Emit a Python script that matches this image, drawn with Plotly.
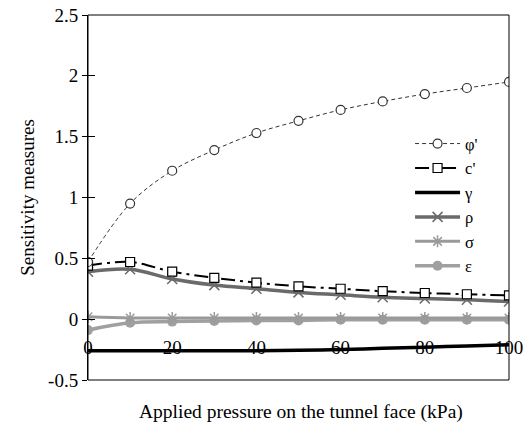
import plotly.graph_objects as go

pressure = [0, 10, 20, 30, 40, 50, 60, 70, 80, 90, 100]
phi = [0.47, 0.95, 1.22, 1.39, 1.53, 1.63, 1.72, 1.79, 1.85, 1.90, 1.95]
coh = [0.44, 0.47, 0.39, 0.34, 0.30, 0.27, 0.25, 0.23, 0.215, 0.205, 0.195]
gamma = [-0.26, -0.26, -0.26, -0.26, -0.26, -0.255, -0.25, -0.24, -0.23, -0.22, -0.21]
rho = [0.39, 0.41, 0.33, 0.28, 0.25, 0.22, 0.20, 0.18, 0.17, 0.16, 0.145]
sigma = [0.02, 0.01, 0.01, 0.01, 0.01, 0.01, 0.01, 0.01, 0.01, 0.01, 0.01]
eps = [-0.09, -0.03, -0.02, -0.015, -0.01, -0.01, -0.005, -0.005, -0.005, -0.005, -0.005]
names = ["\u03c6'", "c'", "\u03b3", "\u03c1", "\u03c3", "\u03b5"]
x_ticks = [0, 20, 40, 60, 80, 100]
y_ticks = [-0.5, 0, 0.5, 1, 1.5, 2, 2.5]
y_ticktext = ["-0.5", "0", "0.5", "1", "1.5", "2", "2.5"]

font = "Liberation Serif"
fig = go.Figure()
fig.add_trace(go.Scatter(x=pressure, y=gamma, name=names[2], mode="lines",
                         line=dict(color="black", width=3.5, shape="spline"), legendrank=3))
fig.add_trace(go.Scatter(x=pressure, y=eps, name=names[5], mode="lines+markers",
                         line=dict(color="#a0a0a0", width=3.5, shape="spline"),
                         marker=dict(symbol="circle", size=10, color="#a0a0a0"), legendrank=6))
fig.add_trace(go.Scatter(x=pressure, y=sigma, name=names[4], mode="lines+markers",
                         line=dict(color="#9a9a9a", width=3, shape="spline"),
                         marker=dict(symbol="asterisk-open", size=10, color="#9a9a9a",
                                     line=dict(width=1.5, color="#9a9a9a")), legendrank=5))
fig.add_trace(go.Scatter(x=pressure, y=rho, name=names[3], mode="lines+markers",
                         line=dict(color="#6a6a6a", width=3.5, shape="spline"),
                         marker=dict(symbol="x-thin-open", size=10, color="#6a6a6a",
                                     line=dict(width=1.5, color="#6a6a6a")), legendrank=4))
fig.add_trace(go.Scatter(x=pressure, y=coh, name=names[1], mode="lines+markers",
                         line=dict(color="black", width=2, dash="14px,5px,3px,5px", shape="spline"),
                         marker=dict(symbol="square", size=9, color="white",
                                     line=dict(width=1.2, color="black")), legendrank=2))
fig.add_trace(go.Scatter(x=pressure, y=phi, name=names[0], mode="lines+markers",
                         line=dict(color="#333333", width=1, dash="4px,3px", shape="spline"),
                         marker=dict(symbol="circle", size=9, color="white",
                                     line=dict(width=1.2, color="#333333")), legendrank=1))
# invisible trace on overlay axis for inside tick marks
fig.add_trace(go.Scatter(x=[0], y=[0], xaxis="x", yaxis="y2", mode="markers",
                         marker=dict(opacity=0), showlegend=False, hoverinfo="skip"))

fig.update_layout(
    width=531, height=428,
    margin=dict(l=88, r=22, t=15, b=48, autoexpand=False),
    paper_bgcolor="white", plot_bgcolor="white",
    font=dict(family=font, size=19, color="black"),
    showlegend=True,
    legend=dict(x=0.765, y=0.695, xanchor="left", yanchor="top",
                bgcolor="rgba(0,0,0,0)", font=dict(size=16.5, family=font),
                tracegroupgap=0, itemwidth=45),
    xaxis=dict(range=[0, 100], tickvals=x_ticks,
               showgrid=False, zeroline=False, showline=False, ticks="",
               anchor="free", position=0.125,
               tickfont=dict(size=19, family=font)),
    yaxis=dict(range=[-0.5, 2.5], tickvals=y_ticks, ticktext=y_ticktext,
               showgrid=False, zeroline=False, showline=True, linecolor="black",
               linewidth=1, ticks="outside", ticklen=5, tickcolor="black",
               title=dict(text="Sensitivity measures", font=dict(size=19, family=font), standoff=8),
               tickfont=dict(size=19, family=font)),
    yaxis2=dict(range=[-0.5, 2.5], tickvals=y_ticks, overlaying="y", side="left",
                showticklabels=False, ticks="inside", ticklen=7, tickcolor="black",
                showgrid=False, zeroline=False, showline=False),
    shapes=[dict(type="rect", xref="paper", yref="paper", x0=0, y0=0, x1=1, y1=1,
                 line=dict(color="black", width=1), layer="above")],
    annotations=[dict(text="Applied pressure on the tunnel face (kPa)", xref="paper", yref="paper",
                      x=0.506, y=-0.087, xanchor="center", yanchor="middle", showarrow=False,
                      font=dict(size=19.5, family=font))],
)
fig.write_html("out.html", config={"displayModeBar": False},
               post_script="document.body.style.margin='0px';")
